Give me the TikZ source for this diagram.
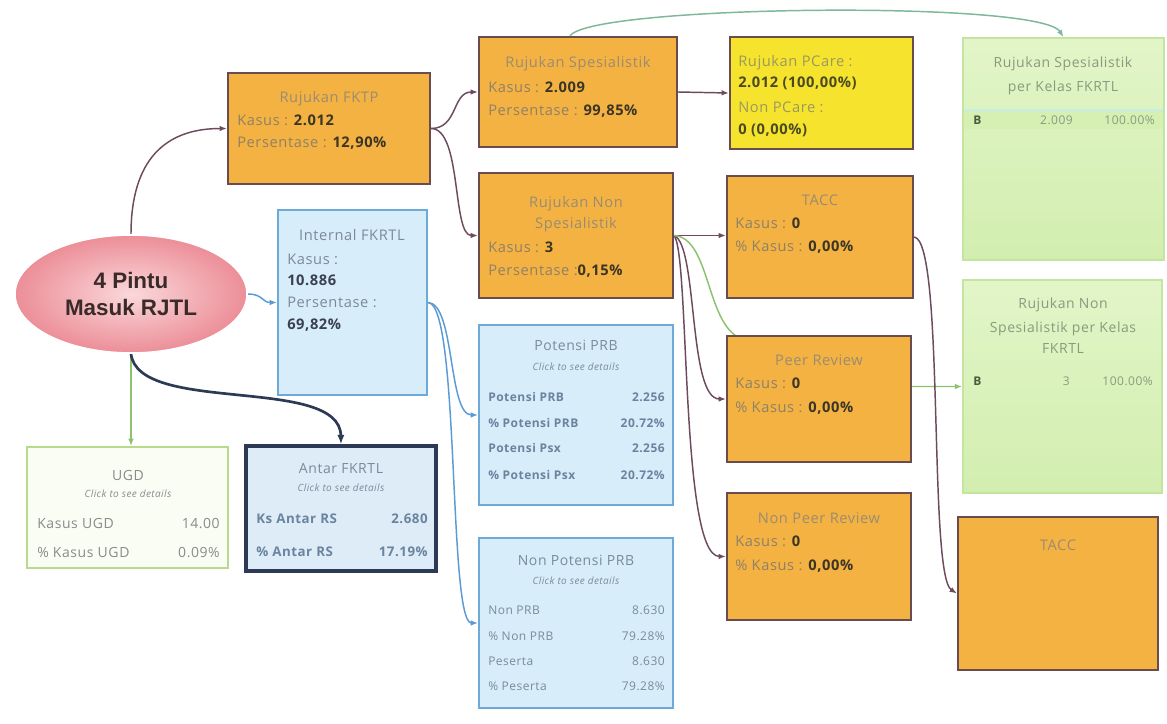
\documentclass[tikz,border=0pt]{standalone}
\usepackage{fontspec}
\newfontfamily\bodyf[LetterSpace=4]{Open Sans}
\newfontfamily\rootf{Liberation Sans}
\usetikzlibrary{fit,arrows.meta,shapes.geometric,backgrounds}
\definecolor{ofill}{HTML}{F4B242}
\definecolor{obrd}{HTML}{6A4B4E}
\definecolor{yfill}{HTML}{F6E32E}
\definecolor{bfill}{HTML}{D8EDFA}
\definecolor{bbrd}{HTML}{6EAAD7}
\definecolor{afill}{HTML}{DEECF8}
\definecolor{abrd}{HTML}{2D3A55}
\definecolor{gtop}{HTML}{E2F5C8}
\definecolor{gbot}{HTML}{D2EEAF}
\definecolor{gbrd}{HTML}{C4E5A0}
\definecolor{ufill}{HTML}{FAFDF4}
\definecolor{ubrd}{HTML}{B7DA8C}
\definecolor{olab}{HTML}{8E8168}
\definecolor{otit}{HTML}{9A8C72}
\definecolor{ylab}{HTML}{9A9A5C}
\definecolor{ydark}{HTML}{4A4A22}
\definecolor{vdark}{HTML}{3B3526}
\definecolor{blab}{HTML}{7A8A9A}
\definecolor{bdark}{HTML}{3A4050}
\definecolor{brow}{HTML}{6A84A0}
\definecolor{glab}{HTML}{8A9A80}
\definecolor{gdark}{HTML}{4A5A3A}
\definecolor{ulab}{HTML}{8A8A8A}
\definecolor{cmar}{HTML}{6E4A5E}
\definecolor{cblu}{HTML}{5B9BD5}
\definecolor{cgrn}{HTML}{8DC26F}
\definecolor{cteal}{HTML}{7DB89A}
\definecolor{rootin}{HTML}{FAD8DA}
\definecolor{rootout}{HTML}{EC8E98}
\definecolor{roottxt}{HTML}{3A2A2A}
\definecolor{sepc}{HTML}{C6ECEF}
\definecolor{gband}{HTML}{D6F0B4}
\newcommand\fBody{\bodyf\fontsize{11}{13}\selectfont}
\newcommand\fTit{\bodyf\fontsize{10.5}{12}\selectfont}
\newcommand\fSm{\bodyf\itshape\fontsize{7.5}{9}\selectfont}
\newcommand\fRow{\bodyf\fontsize{9}{11}\selectfont}
\newcommand\fRowB{\bodyf\bfseries\fontsize{9}{11}\selectfont}
\newcommand\fAnt{\bodyf\bfseries\fontsize{10}{12}\selectfont}
\newcommand\valb[1]{{\bfseries\color{vdark}#1}}
\newcommand\valy[1]{{\bfseries\color{ydark}#1}}
\newcommand\valc[1]{{\bfseries\color{bdark}#1}}
\begin{document}
\begin{tikzpicture}[x=0.75pt,y=-0.75pt,
  boxbase/.style={inner sep=0pt, line width=1.6pt},
  obox/.style={boxbase, draw=obrd, fill=ofill},
  ybox/.style={boxbase, draw=obrd, fill=yfill},
  bbox/.style={boxbase, draw=bbrd, fill=bfill, line width=1.4pt},
  abox/.style={boxbase, draw=abrd, fill=afill, line width=2.6pt},
  gbox/.style={boxbase, draw=gbrd, top color=gtop, bottom color=gbot, line width=1.2pt},
  ubox/.style={boxbase, draw=ubrd, fill=ufill, line width=1.4pt},
  ltx/.style={anchor=base west, inner sep=0pt, font=\fBody},
  ctx/.style={anchor=base, inner sep=0pt, font=\fBody},
  rtx/.style={anchor=base east, inner sep=0pt, font=\fBody},
  arrtip/.style={-{Latex[length=5.5pt,width=4.2pt]}},
  mcon/.style={arrtip, draw=cmar, line width=1.1pt},
  bcon/.style={arrtip, draw=cblu, line width=1.1pt},
  gcon/.style={arrtip, draw=cgrn, line width=1.1pt},
  tcon/.style={arrtip, draw=cteal, line width=1.1pt},
  acon/.style={-{Latex[length=7pt,width=5.5pt]}, draw=abrd, line width=2pt},
]
\useasboundingbox (0,0) rectangle (1167,724);

% ---------- root ----------
\node[ellipse, minimum width=232*0.75pt, minimum height=118*0.75pt,
      shading=radial, inner color=rootin, outer color=rootout,
      draw=white, line width=1.2pt, align=center, text=roottxt,
      font=\rootf\bfseries\fontsize{16.8}{20}\selectfont] (root) at (131,294) {4 Pintu\\Masuk RJTL};

% ---------- boxes ----------
\node[obox, fit={(228,73)(430,184)}] (fktp) {};
\node[bbox, fit={(278,210)(427,395)}] (intl) {};
\node[ubox, fit={(27,447)(228,568)}] (ugd) {};
\node[abox, fit={(246,446)(436,571)}] (antar) {};
\node[obox, fit={(479,37)(677,147)}] (rs) {};
\node[ybox, fit={(730,37)(913,149)}] (pcare) {};
\node[obox, fit={(479,173)(673,298)}] (rns) {};
\node[obox, fit={(727,176)(913,298)}] (tacc) {};
\node[bbox, fit={(479,325)(673,505)}] (pprb) {};
\node[bbox, fit={(479,538)(673,708)}] (npprb) {};
\node[obox, fit={(727,336)(911,462)}] (peer) {};
\node[obox, fit={(727,493)(911,620)}] (npeer) {};
\node[gbox, fit={(963,38)(1164,260)}] (gks) {};
\node[gbox, fit={(963,280)(1162,493)}] (gkns) {};
\node[obox, fit={(958,517)(1158,670)}] (tacc2) {};

% green box details
\fill[gband] (964,111) rectangle (1163,129);
\draw[sepc, line width=1.5pt] (964,110) -- (1163,110);

% ---------- texts ----------
% Rujukan FKTP
\node[ctx, text=otit] (fktp-t) at (329,103) {Rujukan FKTP};
\node[ltx, text=olab] (fktp-1) at (237,125) {Kasus : \valb{2.012}};
\node[ltx, text=olab] (fktp-2) at (237,147) {Persentase : \valb{12,90\%}};
% Internal FKRTL
\node[ctx, text=blab] (intl-t) at (352,240) {Internal FKRTL};
\node[ltx, text=blab] (intl-1) at (287,264) {Kasus :};
\node[ltx, text=blab] (intl-2) at (287,285) {\valc{10.886}};
\node[ltx, text=blab] (intl-3) at (287,307) {Persentase :};
\node[ltx, text=blab] (intl-4) at (287,329) {\valc{69,82\%}};
% UGD
\node[ctx, text=ulab, font=\fTit] (ugd-t) at (128,480) {UGD};
\node[ctx, text=ulab, font=\fSm] (ugd-s) at (128,497) {Click to see details};
\node[ltx, text=ulab, font=\fTit] (ugd-1l) at (37,528) {Kasus UGD};
\node[rtx, text=ulab, font=\fTit] (ugd-1r) at (220,528) {14.00};
\node[ltx, text=ulab, font=\fTit] (ugd-2l) at (37,557) {\% Kasus UGD};
\node[rtx, text=ulab, font=\fTit] (ugd-2r) at (220,557) {0.09\%};
% Antar FKRTL
\node[ctx, text=blab, font=\fTit] (antar-t) at (341,473) {Antar FKRTL};
\node[ctx, text=blab, font=\fSm] (antar-s) at (341,491) {Click to see details};
\node[ltx, text=brow, font=\fAnt] (antar-1l) at (256,523) {Ks Antar RS};
\node[rtx, text=brow, font=\fAnt] (antar-1r) at (428,523) {2.680};
\node[ltx, text=brow, font=\fAnt] (antar-2l) at (256,556) {\% Antar RS};
\node[rtx, text=brow, font=\fAnt] (antar-2r) at (428,556) {17.19\%};
% Rujukan Spesialistik
\node[ctx, text=otit] (rs-t) at (578,68) {Rujukan Spesialistik};
\node[ltx, text=olab] (rs-1) at (488,93) {Kasus : \valb{2.009}};
\node[ltx, text=olab] (rs-2) at (488,115) {Persentase : \valb{99,85\%}};
% Rujukan PCare
\node[ltx, text=ylab] (pc-1) at (738,67) {Rujukan PCare :};
\node[ltx, text=ylab] (pc-2) at (738,88) {\valy{2.012 (100,00\%)}};
\node[ltx, text=ylab] (pc-3) at (738,113) {Non PCare :};
\node[ltx, text=ylab] (pc-4) at (738,134) {\valy{0 (0,00\%)}};
% Rujukan Non Spesialistik
\node[ctx, text=otit] (rns-t1) at (576,207) {Rujukan Non};
\node[ctx, text=otit] (rns-t2) at (576,228) {Spesialistik};
\node[ltx, text=olab] (rns-1) at (488,252) {Kasus : \valb{3}};
\node[ltx, text=olab] (rns-2) at (488,275) {Persentase :\valb{0,15\%}};
% TACC
\node[ctx, text=otit] (tacc-t) at (820,205) {TACC};
\node[ltx, text=olab] (tacc-1) at (735,228) {Kasus : \valb{0}};
\node[ltx, text=olab] (tacc-2) at (735,251) {\% Kasus : \valb{0,00\%}};
% Peer Review
\node[ctx, text=otit] (peer-t) at (819,365) {Peer Review};
\node[ltx, text=olab] (peer-1) at (735,388) {Kasus : \valb{0}};
\node[ltx, text=olab] (peer-2) at (735,412) {\% Kasus : \valb{0,00\%}};
% Non Peer Review
\node[ctx, text=otit] (npeer-t) at (819,523) {Non Peer Review};
\node[ltx, text=olab] (npeer-1) at (735,546) {Kasus : \valb{0}};
\node[ltx, text=olab] (npeer-2) at (735,570) {\% Kasus : \valb{0,00\%}};
% Potensi PRB
\node[ctx, text=blab, font=\fTit] (pprb-t) at (576,350) {Potensi PRB};
\node[ctx, text=blab, font=\fSm] (pprb-s) at (576,370) {Click to see details};
\node[ltx, text=brow, font=\fRowB] (pprb-1l) at (488,401) {Potensi PRB};
\node[rtx, text=brow, font=\fRowB] (pprb-1r) at (665,401) {2.256};
\node[ltx, text=brow, font=\fRowB] (pprb-2l) at (488,427) {\% Potensi PRB};
\node[rtx, text=brow, font=\fRowB] (pprb-2r) at (665,427) {20.72\%};
\node[ltx, text=brow, font=\fRowB] (pprb-3l) at (488,452) {Potensi Psx};
\node[rtx, text=brow, font=\fRowB] (pprb-3r) at (665,452) {2.256};
\node[ltx, text=brow, font=\fRowB] (pprb-4l) at (488,479) {\% Potensi Psx};
\node[rtx, text=brow, font=\fRowB] (pprb-4r) at (665,479) {20.72\%};
% Non Potensi PRB
\node[ctx, text=blab, font=\fTit] (npprb-t) at (576,565) {Non Potensi PRB};
\node[ctx, text=blab, font=\fSm] (npprb-s) at (576,584) {Click to see details};
\node[ltx, text=blab, font=\fRow] (npprb-1l) at (488,614) {Non PRB};
\node[rtx, text=blab, font=\fRow] (npprb-1r) at (665,614) {8.630};
\node[ltx, text=blab, font=\fRow] (npprb-2l) at (488,640) {\% Non PRB};
\node[rtx, text=blab, font=\fRow] (npprb-2r) at (665,640) {79.28\%};
\node[ltx, text=blab, font=\fRow] (npprb-3l) at (488,665) {Peserta};
\node[rtx, text=blab, font=\fRow] (npprb-3r) at (665,665) {8.630};
\node[ltx, text=blab, font=\fRow] (npprb-4l) at (488,690) {\% Peserta};
\node[rtx, text=blab, font=\fRow] (npprb-4r) at (665,690) {79.28\%};
% Green: Rujukan Spesialistik per Kelas FKRTL
\node[ctx, text=glab, font=\fTit] (gks-t1) at (1063,68) {Rujukan Spesialistik};
\node[ctx, text=glab, font=\fTit] (gks-t2) at (1063,92) {per Kelas FKRTL};
\node[ltx, text=gdark, font=\fRowB] (gks-1a) at (973,124) {B};
\node[rtx, text=glab, font=\fRow] (gks-1b) at (1073,124) {2.009};
\node[rtx, text=glab, font=\fRow] (gks-1c) at (1155,124) {100.00\%};
% Green: Rujukan Non Spesialistik per Kelas FKRTL
\node[ctx, text=glab, font=\fTit] (gkns-t1) at (1063,308) {Rujukan Non};
\node[ctx, text=glab, font=\fTit] (gkns-t2) at (1063,332) {Spesialistik per Kelas};
\node[ctx, text=glab, font=\fTit] (gkns-t3) at (1063,353) {FKRTL};
\node[ltx, text=gdark, font=\fRowB] (gkns-1a) at (973,385) {B};
\node[rtx, text=glab, font=\fRow] (gkns-1b) at (1070,385) {3};
\node[rtx, text=glab, font=\fRow] (gkns-1c) at (1153,385) {100.00\%};
% TACC 2
\node[ctx, text=otit] (tacc2-t) at (1058,550) {TACC};

% ---------- connectors ----------
\begin{scope}[on background layer]
\fill[white] (0,0) rectangle (1167,724);
\draw[mcon] (root.north) .. controls (131,160) and (165,128.5) .. (fktp.west);
\draw[bcon] (root.east) .. controls (263,294) and (262,302.5) .. (intl.west);
\draw[gcon] (root.south) -- (root.south |- ugd.north);
\draw[acon] (root.south) .. controls (138,415) and (340,375) .. (antar.north);
\draw[mcon] (fktp.east) .. controls (458,128.5) and (452,92) .. (rs.west);
\draw[mcon] (fktp.east) .. controls (462,128.5) and (452,235.5) .. (rns.west);
\draw[mcon] (rs.east) -- (pcare.west);
\draw[tcon] ([shift={(-8,0)}]rs.north) .. controls (590,5) and (1040,0) .. (gks.north);
\draw[mcon] (rns.east) -- (rns.east -| tacc.west);
\draw[mcon] (rns.east) .. controls (698,245) and (688,399) .. (peer.west);
\draw[mcon] (rns.east) .. controls (690,255) and (680,556) .. (npeer.west);
\draw[gcon] (rns.east) .. controls (712,238) and (705,330) .. (745,340) -- (905,386.5) -- (gkns.west);
\draw[mcon] (tacc.east) .. controls (945,240) and (928,575) .. (tacc2.west);
\draw[bcon] (intl.east) .. controls (455,303) and (448,415) .. (pprb.west);
\draw[bcon] (intl.east) .. controls (460,303) and (448,623) .. (npprb.west);
\end{scope}
\end{tikzpicture}
\end{document}
